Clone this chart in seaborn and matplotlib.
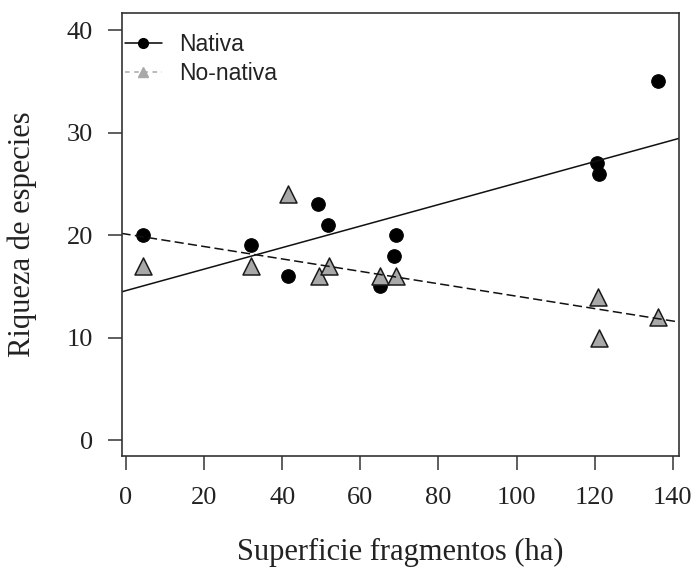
import matplotlib
matplotlib.use("Agg")
import matplotlib.pyplot as plt
from matplotlib.lines import Line2D
import numpy as np
import pandas as pd
import seaborn as sns

# Data
area_nativa = [4.4, 32.0, 41.5, 49.2, 51.8, 65.1, 68.7, 69.2, 120.5, 121.0, 136.2]
riqueza_nativa = [20, 19, 16, 23, 21, 15, 18, 20, 27, 26, 35]
area_nonativa = [4.4, 32.0, 41.5, 49.5, 52.0, 65.0, 69.2, 120.8, 121.0, 136.2]
riqueza_nonativa = [17, 17, 24, 16, 17, 16, 16, 14, 10, 12]
x_ticks = [0, 20, 40, 60, 80, 100, 120, 140]
y_ticks = [0, 10, 20, 30, 40]

df_n = pd.DataFrame({"area": area_nativa, "riqueza": riqueza_nativa})
df_nn = pd.DataFrame({"area": area_nonativa, "riqueza": riqueza_nonativa})

sns.set_style("white")
plt.rcParams["font.family"] = ["Liberation Serif", "DejaVu Serif"]

W, H = 696, 570
L, R, T, B = 121.5, 679, 13, 456
fig = plt.figure(figsize=(W / 100, H / 100), dpi=100)
ax = fig.add_axes([L / W, 1 - B / H, (R - L) / W, (B - T) / H])

xlim = (-1.15, 141.6)
ylim = (-1.56, 41.66)
ax.set_xlim(*xlim)
ax.set_ylim(*ylim)

gray = "#a8a8a8"
edge = "#1a1a1a"
sns.scatterplot(data=df_n, x="area", y="riqueza", ax=ax, color="black",
                marker="o", s=95, edgecolor="black", linewidth=0.8, zorder=3)
sns.scatterplot(data=df_nn, x="area", y="riqueza", ax=ax, color=gray,
                marker="^", s=150, edgecolor=edge, linewidth=1.1, zorder=3)

sns.regplot(data=df_n, x="area", y="riqueza", ax=ax, scatter=False, ci=None,
            truncate=False, line_kws=dict(color="#111111", lw=1.1, zorder=4))
sns.regplot(data=df_nn, x="area", y="riqueza", ax=ax, scatter=False, ci=None,
            truncate=False, line_kws=dict(color="#111111", lw=1.1, ls=(0, (6, 2.8)), zorder=4))

ax.set_xlim(*xlim)
ax.set_ylim(*ylim)
ax.set_xticks(x_ticks)
ax.set_yticks(y_ticks)

for sp in ax.spines.values():
    sp.set_visible(True)
    sp.set_color("#333333")
    sp.set_linewidth(1.2)
    sp.set_zorder(5)

ax.tick_params(axis="both", direction="out", length=10, width=1.1, color="#333333",
               labelsize=19, labelcolor="#222222", bottom=True, left=True)
ax.tick_params(axis="x", pad=12)
ax.tick_params(axis="y", pad=10.5)

ax.set_xlabel("Superficie fragmentos (ha)", fontsize=22, color="#222222")
ax.set_ylabel("Riqueza de especies", fontsize=22, color="#222222")
ax.xaxis.set_label_coords(0.5, -(538 - B) / (B - T))
ax.yaxis.set_label_coords(-(L - 37) / (R - L), 0.5)

handles = [
    Line2D([], [], color="black", lw=1.1, marker="o", markersize=7,
           markerfacecolor="black", markeredgecolor="black"),
    Line2D([], [], color=gray, lw=1.1, ls=(0, (3, 3)), marker="^", markersize=7.5,
           markerfacecolor=gray, markeredgecolor=gray),
]
leg = ax.legend(handles, ["Nativa", "No-nativa"], loc="upper left",
                bbox_to_anchor=((125 - L) / (R - L), 1 - (33 - T) / (B - T)),
                frameon=False, borderaxespad=0.0,
                borderpad=0.0, handlelength=1.6, handletextpad=0.75, labelspacing=0.28,
                prop={"family": ["Liberation Sans", "DejaVu Sans"], "size": 16.5})
for t in leg.get_texts():
    t.set_color("#222222")

fig.savefig("out.png", dpi=100)
